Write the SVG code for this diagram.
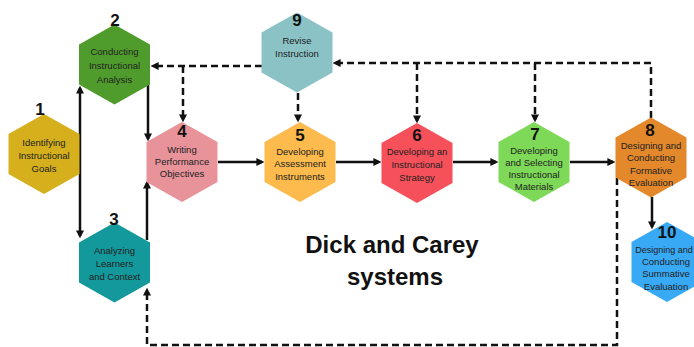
<svg xmlns="http://www.w3.org/2000/svg" xmlns:xlink="http://www.w3.org/1999/xlink" width="694" height="347" viewBox="0 0 694 347">
<style>
.lbl{font-family:"Liberation Sans",Arial,sans-serif;font-size:9.5px;fill:#222;text-anchor:middle}
.num{font-family:"Liberation Sans",Arial,sans-serif;font-size:17px;font-weight:bold;fill:#111;text-anchor:middle}
.title{font-family:"Liberation Sans",Arial,sans-serif;font-size:24px;font-weight:bold;fill:#111;text-anchor:middle}
.solid{fill:none;stroke:#111;stroke-width:2.5;marker-end:url(#ah)}
.dashA{fill:none;stroke:#111;stroke-width:2.5;stroke-dasharray:7 4;marker-end:url(#ah)}
</style>
<defs>
<marker id="ah" viewBox="0 0 10 10" refX="7" refY="5" markerWidth="8" markerHeight="8" markerUnits="userSpaceOnUse" orient="auto-start-reverse">
<path d="M0,0 L10,5 L0,10 z" fill="#111"/>
</marker>
<polygon id="hex" points="0,-40 35.5,-20 35.5,20 0,40 -35.5,20 -35.5,-20"/>
</defs>
<rect width="694" height="347" fill="#fff"/>

<g id="connectors">
<line x1="80" y1="88" x2="80" y2="236" class="solid" marker-start="url(#ah)"/>
<line x1="148" y1="85" x2="148" y2="139" class="solid"/>
<line x1="147" y1="240" x2="147" y2="183" class="solid"/>
<line x1="218" y1="162" x2="262" y2="162" class="solid"/>
<line x1="336" y1="162" x2="379" y2="162" class="solid"/>
<line x1="453" y1="162" x2="496" y2="162" class="solid"/>
<line x1="570" y1="162" x2="613" y2="162" class="solid"/>
<line x1="652" y1="197" x2="652" y2="227" class="solid"/>
<path d="M651,118 V63 H335" class="dashA"/>
<path d="M417,63 V121" class="dashA"/>
<path d="M535,63 V120" class="dashA"/>
<path d="M262,66 H153" class="dashA"/>
<path d="M183,66 V120" class="dashA"/>
<path d="M298,93 V120" class="dashA"/>
<path d="M617,178 V345 H147 V290" class="dashA"/>
</g>

<g id="node1">
<use xlink:href="#hex" x="44" y="154" fill="#D5B01C"/>
<text class="num" x="40" y="115">1</text>
<text class="lbl" x="44" y="146">Identifying</text>
<text class="lbl" x="44" y="159">Instructional</text>
<text class="lbl" x="44" y="172">Goals</text>
</g>
<g id="node2">
<use xlink:href="#hex" x="114.5" y="64.5" fill="#4F9C2C"/>
<text class="num" x="115" y="26">2</text>
<text class="lbl" x="114.5" y="55">Conducting</text>
<text class="lbl" x="114.5" y="69">Instructional</text>
<text class="lbl" x="114.5" y="83">Analysis</text>
</g>
<g id="node3">
<use xlink:href="#hex" x="114.5" y="262.5" fill="#13989B"/>
<text class="num" x="114" y="225">3</text>
<text class="lbl" x="114.5" y="254">Analyzing</text>
<text class="lbl" x="114.5" y="267">Learners</text>
<text class="lbl" x="114.5" y="280">and Context</text>
</g>
<g id="node4">
<use xlink:href="#hex" x="182" y="162" fill="#E8939A"/>
<text class="num" x="182" y="137">4</text>
<text class="lbl" x="182" y="153">Writing</text>
<text class="lbl" x="182" y="165">Performance</text>
<text class="lbl" x="182" y="177">Objectives</text>
</g>
<g id="node5">
<use xlink:href="#hex" x="300" y="162" fill="#FDBA4D"/>
<text class="num" x="300" y="141">5</text>
<text class="lbl" x="300" y="155">Developing</text>
<text class="lbl" x="300" y="167">Assessment</text>
<text class="lbl" x="300" y="180">Instruments</text>
</g>
<g id="node6">
<use xlink:href="#hex" x="417" y="163" fill="#F6505A"/>
<text class="num" x="417" y="141">6</text>
<text class="lbl" x="417" y="155">Developing an</text>
<text class="lbl" x="417" y="168">Instructional</text>
<text class="lbl" x="417" y="181">Strategy</text>
</g>
<g id="node7">
<use xlink:href="#hex" x="534" y="162" fill="#7DD957"/>
<text class="num" x="535" y="140">7</text>
<text class="lbl" x="534" y="154">Developing</text>
<text class="lbl" x="534" y="166">and Selecting</text>
<text class="lbl" x="534" y="178">Instructional</text>
<text class="lbl" x="534" y="190">Materials</text>
</g>
<g id="node8">
<use xlink:href="#hex" x="651" y="157.5" fill="#E3882B"/>
<text class="num" x="650" y="136">8</text>
<text class="lbl" x="651" y="149">Designing and</text>
<text class="lbl" x="651" y="161">Conducting</text>
<text class="lbl" x="651" y="174">Formative</text>
<text class="lbl" x="651" y="186">Evaluation</text>
</g>
<g id="node9">
<use xlink:href="#hex" x="297" y="52.5" fill="#8AC2C6"/>
<text class="num" x="297" y="26">9</text>
<text class="lbl" x="297" y="44">Revise</text>
<text class="lbl" x="297" y="57">Instruction</text>
</g>
<g id="node10">
<use xlink:href="#hex" x="667" y="262" fill="#38A9F5"/>
<text class="num" x="667" y="238">10</text>
<text class="lbl" x="664" y="253" style="font-size:9px">Designing and</text>
<text class="lbl" x="666" y="265">Conducting</text>
<text class="lbl" x="666" y="277">Summative</text>
<text class="lbl" x="666" y="290">Evaluation</text>
</g>

<g id="title">
<text class="title" x="392" y="253">Dick and Carey</text>
<text class="title" x="395" y="285">systems</text>
</g>
</svg>
